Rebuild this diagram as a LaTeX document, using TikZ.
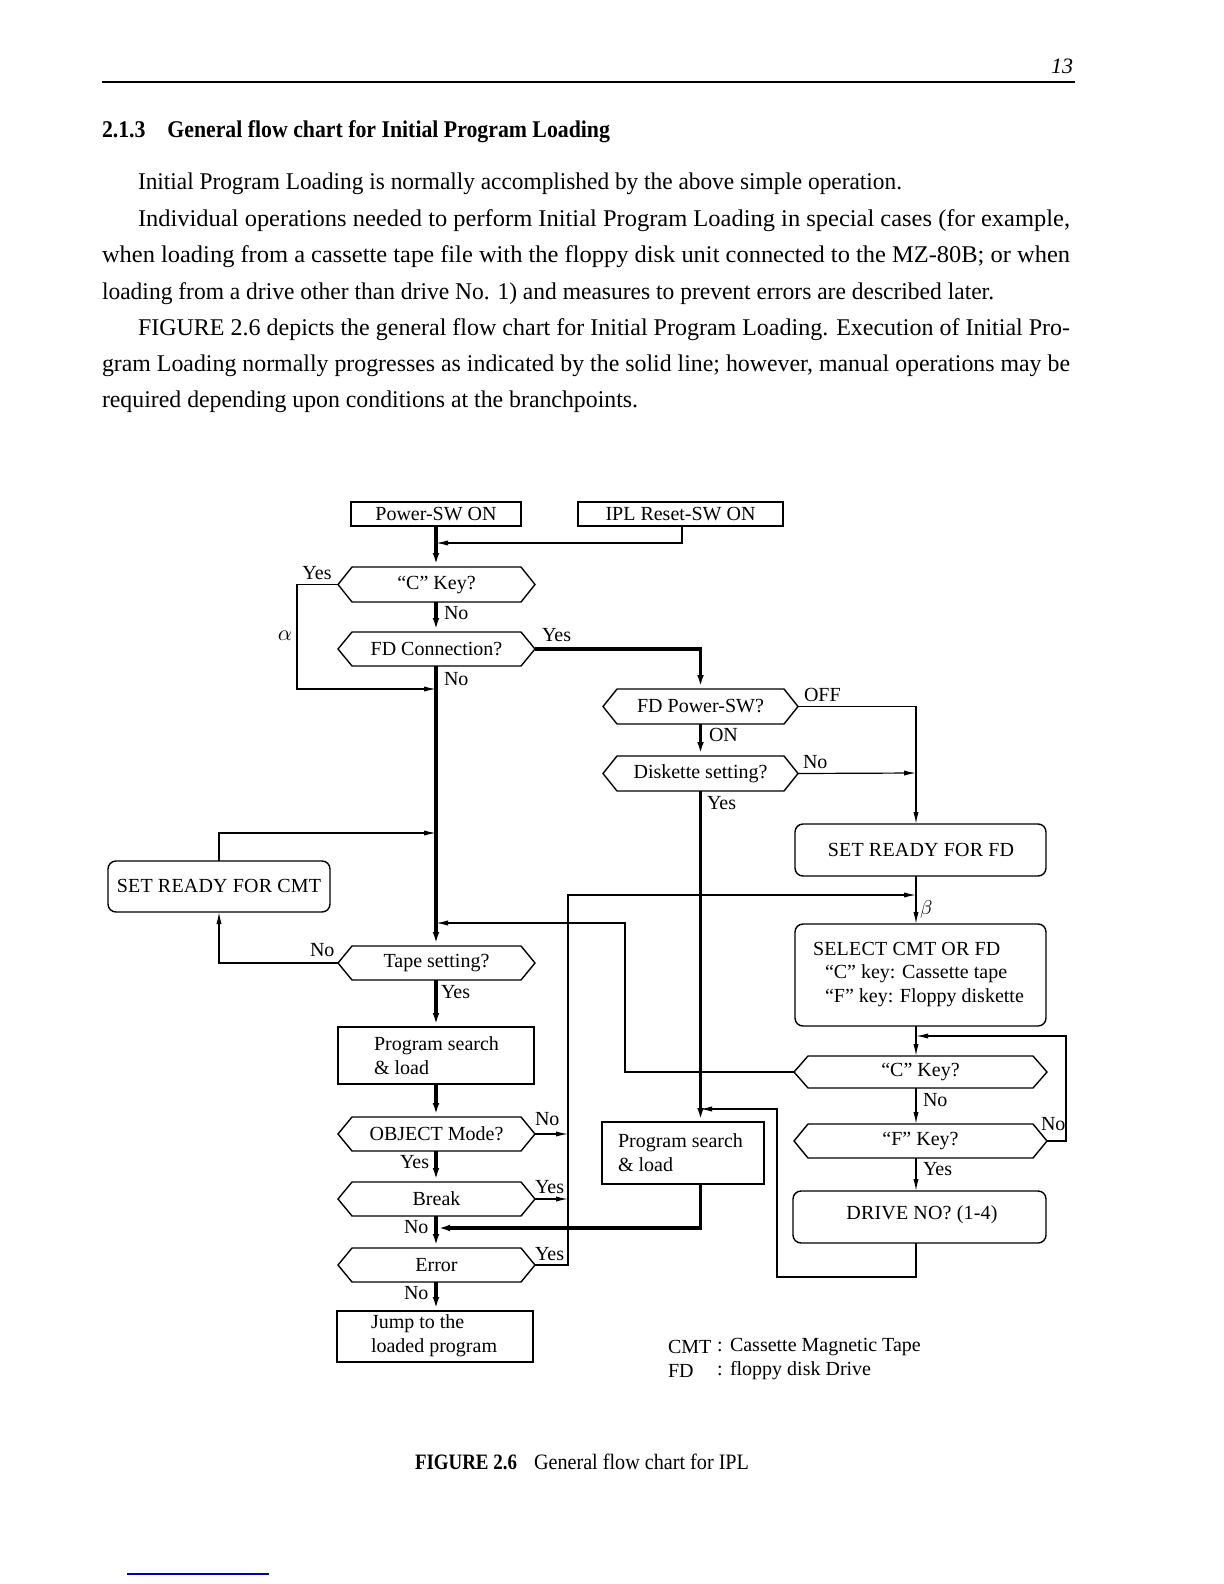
\documentclass[tikz,border=0pt]{standalone}
\usepackage{fontspec}
\usepackage{graphicx}
\setmainfont{Liberation Serif}
\newfontfamily\capsfont[LetterSpace=1]{Liberation Serif}
\usetikzlibrary{calc,fit,arrows.meta}
\newcommand\dfont{\fontsize{10}{12}\selectfont}
\newcommand\bfont{\fontsize{12}{14}\selectfont}
\newcommand\hexshape[1]{\draw[line width=0.7pt] (#1.west) -- ($(#1.north west)+(14,0)$) -- ($(#1.north east)+(-14,0)$) -- (#1.east) -- ($(#1.south east)+(-14,0)$) -- ($(#1.south west)+(14,0)$) -- cycle;}
% fitted node with centred text: [style]{name}{corners}{text}
\newcommand\fitnode[4][]{\node[#1, fit={#3}] (#2) {}; \node (#2-t) at (#2.center) {#4};}
\begin{document}
\begin{tikzpicture}[x=0.5pt,y=-0.5pt,
  every node/.style={inner sep=0pt, outer sep=0pt, font=\dfont},
  sbox/.style={draw, line width=0.7pt},
  rbox/.style={draw, line width=0.7pt, rounded corners=4pt},
  hexin/.style={},
  thn/.style={line width=0.6pt, -{Latex[length=6pt,width=2.6pt]}},
  thk/.style={line width=1.6pt, -{Latex[length=7pt,width=3.2pt]}},
  bodyline/.style={anchor=base west, font=\bfont},
  caps/.style={font=\dfont\capsfont},
]
\fill[white] (0,0) rectangle (1224,1584);
\useasboundingbox (0,0) rectangle (1224,1584);

% ---------- page header and text ----------
\node[anchor=base east, font=\fontsize{11}{13}\selectfont\itshape] (pgno) at (1073,74) {13};
\draw[line width=1pt] (102,82) -- (1075,82);
\node[bodyline] (head) at (102,138) {\resizebox{254pt}{\height}{\textbf{2.1.3\quad General flow chart for Initial Program Loading}}};
\node[bodyline] (t1) at (138,189) {\resizebox{382pt}{\height}{Initial Program Loading is normally accomplished by the above simple operation.}};
\node[bodyline] (t2) at (138,226) {\resizebox{466pt}{\height}{Individual operations needed to perform Initial Program Loading in special cases (for example,}};
\node[bodyline] (t3) at (102,262) {\resizebox{484pt}{\height}{when loading from a cassette tape file with the floppy disk unit connected to the MZ-80B; or when}};
\node[bodyline] (t4) at (102,299) {\resizebox{446pt}{\height}{loading from a drive other than drive No. 1) and measures to prevent errors are described later.}};
\node[bodyline] (t5) at (138,335) {\resizebox{466pt}{\height}{FIGURE 2.6 depicts the general flow chart for Initial Program Loading. Execution of Initial Pro-}};
\node[bodyline] (t6) at (102,371) {\resizebox{484pt}{\height}{gram Loading normally progresses as indicated by the solid line; however, manual operations may be}};
\node[bodyline] (t7) at (102,407) {\resizebox{268pt}{\height}{required depending upon conditions at the branchpoints.}};

% ---------- boxes ----------
\fitnode[sbox]{pw}{(351,502)(521,526)}{Power-SW ON}
\fitnode[sbox]{ipl}{(578,502)(783,526)}{IPL Reset-SW ON}
\fitnode[hexin]{ck}{(338,567)(535,602)}{“C” Key?}
\fitnode[hexin]{fdc}{(338,632)(535,666)}{FD Connection?}
\fitnode[hexin]{fdp}{(603,689)(798,724)}{FD Power-SW?}
\fitnode[hexin]{dsk}{(603,756)(798,791)}{Diskette setting?}
\node[rbox, fit={(795,824)(1046,876)}] (srfd) {};
\node[caps] (srfdt) at (921,850) {SET READY FOR FD};
\node[rbox, fit={(108,861)(330,912)}] (srcmt) {};
\node[caps] (srcmtt) at (219,886) {SET READY FOR CMT};
\fitnode[hexin]{tape}{(338,946)(535,980)}{Tape setting?}
\node[rbox, fit={(795,924)(1046,1026)}] (sel) {};
\node[caps, anchor=west] (selt1) at (813,949) {SELECT CMT OR FD};
\node[anchor=west] (selt2) at (825,974) {“C” key: Cassette tape};
\node[anchor=west] (selt3) at (825,998) {“F” key: Floppy diskette};
\node[sbox, fit={(338,1027)(534,1084)}] (psl) {};
\node[anchor=west, align=left] (pslt) at (374,1056) {Program search\\[0pt]\& load};
\fitnode[hexin]{ckr}{(794,1056)(1047,1088)}{“C” Key?}
\fitnode[hexin]{obj}{(338,1117)(535,1151)}{OBJECT Mode?}
\node[sbox, fit={(602,1122)(764,1184)}] (psr) {};
\node[anchor=west, align=left] (psrt) at (618,1153) {Program search\\[0pt]\& load};
\fitnode[hexin]{fk}{(794,1124)(1047,1158)}{“F” Key?}
\fitnode[hexin]{brk}{(338,1182)(535,1216)}{Break}
\node[rbox, fit={(793,1191)(1046,1243)}] (drv) {};
\node[caps] (drvt) at (922,1215) {DRIVE NO? (1-4)};
\fitnode[hexin]{err}{(338,1248)(535,1282)}{Error}
\node[sbox, fit={(337,1311)(533,1362)}] (jump) {};
\node[anchor=west, align=left] (jumpt) at (371,1336) {Jump to the\\[0pt]loaded program};

\hexshape{ck}\hexshape{fdc}\hexshape{fdp}\hexshape{dsk}\hexshape{tape}
\hexshape{ckr}\hexshape{fk}\hexshape{obj}\hexshape{brk}\hexshape{err}

% ---------- join coordinates ----------
\coordinate (rc) at (916,0);
\coordinate (vc) at (568,0);
\coordinate (j1) at (436,543);
\coordinate (j2) at (436,689);
\coordinate (j3) at (436,833);
\coordinate (j4) at (436,923);
\coordinate (j5) at (436,1228);
\coordinate (j6) at (700,1109);
\coordinate (j7) at (916,773);
\coordinate (j8) at (916,895);
\coordinate (j9) at (916,1036);

% ---------- thick main path ----------
\draw[thk] (pw.south) -- (pw.south |- ck.north);
\draw[thk] (ck.south -| pw.south) -- (pw.south |- fdc.north);
\draw[thk] (fdc.east) -- (fdc.east -| fdp.north) -- (fdp.north);
\draw[thk] (fdp.south) -- (dsk.north);
\draw[thk] (dsk.south) -- (dsk.south |- psr.north);
\draw[thk] (dsk.south |- psr.south) -- (dsk.south |- j5) -- (j5);
\draw[thk] (fdc.south -| pw.south) -- (pw.south |- tape.north);
\draw[thk] (tape.south -| pw.south) -- (pw.south |- psl.north);
\draw[thk] (psl.south -| pw.south) -- (pw.south |- obj.north);
\draw[thk] (obj.south -| pw.south) -- (pw.south |- brk.north);
\draw[thk] (brk.south -| pw.south) -- (pw.south |- err.north);
\draw[thk] (err.south -| pw.south) -- (pw.south |- jump.north);

% ---------- thin connectors ----------
\draw[thn] (ipl.south -| 682,0) -- (682,543) -- (j1);
\draw[thn] (ck.west) -- (297,584.5) -- (297,689) -- (j2);
\draw[thn] (fdp.east) -- (fdp.east -| rc) -- (srfd.north -| rc);
\draw[thn] (dsk.east) -- (j7);
\draw[thn] (srfd.south -| rc) -- (sel.north -| rc);
\draw[thn] (srcmt.north) -- (srcmt.north |- j3) -- (j3);
\draw[thn] (tape.west) -- (tape.west -| srcmt.south) -- (srcmt.south);
\draw[thn] (ckr.west) -- (625,1072) -- (625,923) -- (j4);
\draw[thn] (sel.south -| rc) -- (ckr.north -| rc);
\draw[thn] (ckr.south -| rc) -- (fk.north -| rc);
\draw[thn] (fk.east) -- (1066,1141) -- (1066,1036) -- (j9);
\draw[thn] (fk.south -| rc) -- (drv.north -| rc);
\draw[thn] (drv.south -| rc) -- (916,1277) -- (777,1277) -- (777,1109) -- (j6);
\draw[thn] (obj.east) -- (obj.east -| vc);
\draw[thn] (brk.east) -- (brk.east -| vc);
\draw[thn] (err.east) -- (568,1265) -- (568,895) -- (j8);

% ---------- branch labels ----------
\node (l1) at (317,573) {Yes};
\node[font=\fontsize{10.5}{12}\selectfont] (l2) at (285,636) {$\alpha$};
\node[anchor=west] (l3) at (444,613) {No};
\node[anchor=west] (l4) at (542,635) {Yes};
\node[anchor=west] (l5) at (444,679) {No};
\node[anchor=west] (l6) at (804,695) {OFF};
\node[anchor=west] (l7) at (709,735) {ON};
\node[anchor=west] (l8) at (803,762) {No};
\node[anchor=west] (l9) at (707,803) {Yes};
\node[anchor=west] (l10) at (920,909) {$\beta$};
\node[anchor=west] (l11) at (310,950) {No};
\node[anchor=west] (l12) at (441,992) {Yes};
\node[anchor=west] (l13) at (535,1119) {No};
\node[anchor=west] (l14) at (400,1162) {Yes};
\node[anchor=west] (l15) at (535,1187) {Yes};
\node[anchor=west] (l16) at (404,1227) {No};
\node[anchor=west] (l17) at (535,1254) {Yes};
\node[anchor=west] (l18) at (404,1293) {No};
\node[anchor=west] (l19) at (923,1100) {No};
\node[anchor=west] (l20) at (1041,1124) {No};
\node[anchor=west] (l21) at (923,1169) {Yes};

% ---------- legend ----------
\node[anchor=west] (lg1) at (668,1347) {CMT};
\node[anchor=west] (lg2) at (717,1347) {:};
\node[anchor=west] (lg3) at (730,1347) {Cassette Magnetic Tape};
\node[anchor=west] (lg4) at (668,1371) {FD};
\node[anchor=west] (lg5) at (717,1371) {:};
\node[anchor=west] (lg6) at (730,1371) {floppy disk Drive};

% ---------- caption ----------
\node[anchor=base west, font=\fontsize{11}{13}\selectfont] (cap1) at (415,1469) {\resizebox{51pt}{\height}{\textbf{FIGURE 2.6}}};
\node[anchor=base west, font=\fontsize{11}{13}\selectfont] (cap2) at (534,1469) {\resizebox{107.5pt}{\height}{General flow chart for IPL}};

\draw[blue!70!black, line width=1pt] (127,1574) -- (269,1574);
\end{tikzpicture}
\end{document}
